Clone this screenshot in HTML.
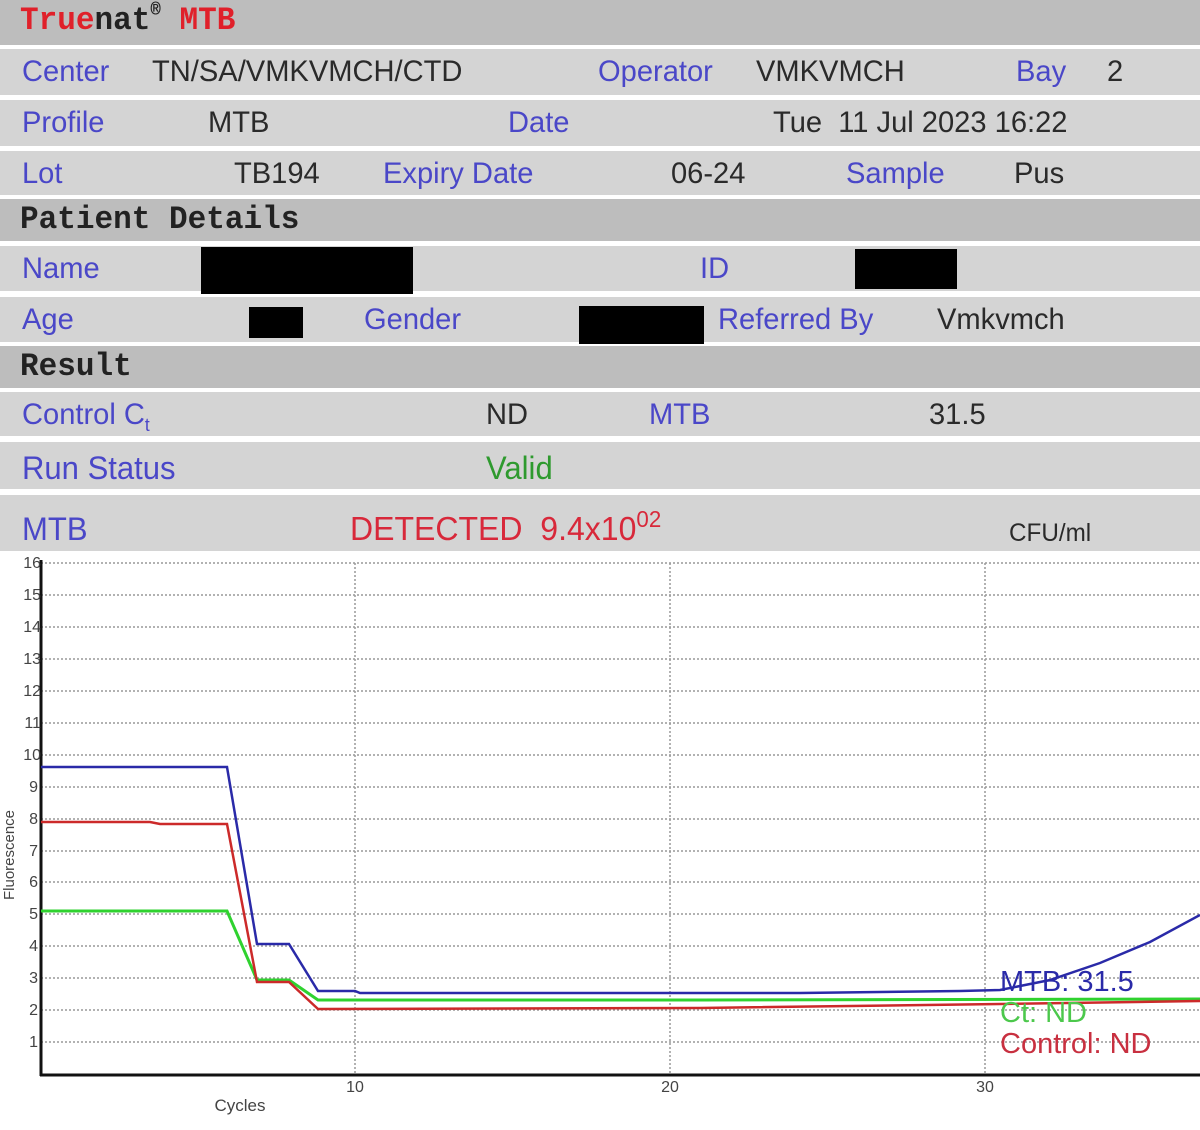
<!DOCTYPE html>
<html><head><meta charset="utf-8"><style>
html,body{margin:0;padding:0;background:#fff;width:1200px;height:1130px;overflow:hidden;position:relative;font-family:"Liberation Sans",sans-serif}
.r{position:absolute;left:0;width:1200px}
.l{background:#d4d4d4}.d{background:#bdbdbd}
.t{position:absolute;font-size:30px;line-height:34px;white-space:nowrap;color:#2a2a2a;transform:scaleX(0.97);transform-origin:left center}
.b{color:#4a47c8}
.k{position:absolute;background:#000}
.m{font-family:"Liberation Mono",monospace;font-size:32px}
sup{line-height:0;position:relative;vertical-align:baseline}
</style></head><body>
<div class="r d" style="top:0;height:45px"></div>
<div class="r l" style="top:49px;height:46px"></div>
<div class="r l" style="top:100px;height:46px"></div>
<div class="r l" style="top:151px;height:44px"></div>
<div class="r d" style="top:199px;height:42px"></div>
<div class="r l" style="top:246px;height:45px"></div>
<div class="r l" style="top:297px;height:45px"></div>
<div class="r d" style="top:346px;height:42px"></div>
<div class="r l" style="top:392px;height:44px"></div>
<div class="r l" style="top:442px;height:47px"></div>
<div class="r l" style="top:495px;height:56px"></div>

<div class="t m" style="left:20px;top:4px;color:#222;font-weight:bold"><span style="color:#e0202a">True</span>nat<sup style="font-size:18px;top:-14px">®</sup> <span style="color:#e0202a">MTB</span></div>

<div class="t b" style="left:22px;top:55px">Center</div>
<div class="t" style="left:152px;top:55px">TN/SA/VMKVMCH/CTD</div>
<div class="t b" style="left:598px;top:55px">Operator</div>
<div class="t" style="left:756px;top:55px">VMKVMCH</div>
<div class="t b" style="left:1016px;top:55px">Bay</div>
<div class="t" style="left:1107px;top:55px">2</div>

<div class="t b" style="left:22px;top:106px">Profile</div>
<div class="t" style="left:208px;top:106px">MTB</div>
<div class="t b" style="left:508px;top:106px">Date</div>
<div class="t" style="left:773px;top:106px">Tue &nbsp;11 Jul 2023 16:22</div>

<div class="t b" style="left:22px;top:157px">Lot</div>
<div class="t" style="left:234px;top:157px">TB194</div>
<div class="t b" style="left:383px;top:157px">Expiry Date</div>
<div class="t" style="left:671px;top:157px">06-24</div>
<div class="t b" style="left:846px;top:157px">Sample</div>
<div class="t" style="left:1014px;top:157px">Pus</div>

<div class="t m" style="left:20px;top:203px;color:#222;font-weight:bold">Patient Details</div>

<div class="t b" style="left:22px;top:252px">Name</div>
<div class="k" style="left:201px;top:247px;width:212px;height:47px"></div>
<div class="t b" style="left:700px;top:252px">ID</div>
<div class="k" style="left:855px;top:249px;width:102px;height:40px"></div>

<div class="t b" style="left:22px;top:303px">Age</div>
<div class="k" style="left:249px;top:307px;width:54px;height:31px"></div>
<div class="t b" style="left:364px;top:303px">Gender</div>
<div class="k" style="left:579px;top:306px;width:125px;height:38px"></div>
<div class="t b" style="left:718px;top:303px">Referred By</div>
<div class="t" style="left:937px;top:303px">Vmkvmch</div>

<div class="t m" style="left:20px;top:350px;color:#222;font-weight:bold">Result</div>

<div class="t b" style="left:22px;top:398px">Control C<sub style="font-size:18px;line-height:0">t</sub></div>
<div class="t" style="left:486px;top:398px">ND</div>
<div class="t b" style="left:649px;top:398px">MTB</div>
<div class="t" style="left:929px;top:398px">31.5</div>

<div class="t b" style="left:22px;top:451px;font-size:32px">Run Status</div>
<div class="t" style="left:486px;top:451px;color:#2e9a2e;font-size:32px">Valid</div>

<div class="t b" style="left:22px;top:512px;font-size:32px">MTB</div>
<div class="t" style="left:350px;top:512px;color:#d8283a;font-size:33px">DETECTED &nbsp;9.4x10<sup style="font-size:23px;top:-13px">02</sup></div>
<div class="t" style="left:1009px;top:516px;font-size:25px">CFU/ml</div>

<svg style="position:absolute;left:0;top:0" width="1200" height="1130">
<g stroke="#999" stroke-width="1.5" stroke-dasharray="2,2" fill="none">
<line x1="41" x2="1200" y1="1042" y2="1042"/><line x1="41" x2="1200" y1="1010" y2="1010"/>
<line x1="41" x2="1200" y1="978" y2="978"/><line x1="41" x2="1200" y1="946" y2="946"/>
<line x1="41" x2="1200" y1="914" y2="914"/><line x1="41" x2="1200" y1="882" y2="882"/>
<line x1="41" x2="1200" y1="851" y2="851"/><line x1="41" x2="1200" y1="819" y2="819"/>
<line x1="41" x2="1200" y1="787" y2="787"/><line x1="41" x2="1200" y1="755" y2="755"/>
<line x1="41" x2="1200" y1="723" y2="723"/><line x1="41" x2="1200" y1="691" y2="691"/>
<line x1="41" x2="1200" y1="659" y2="659"/><line x1="41" x2="1200" y1="627" y2="627"/>
<line x1="41" x2="1200" y1="595" y2="595"/><line x1="41" x2="1200" y1="563" y2="563"/>
<line x1="355" x2="355" y1="563" y2="1074"/><line x1="670" x2="670" y1="563" y2="1074"/><line x1="985" x2="985" y1="563" y2="1074"/>
</g>
<line x1="41" y1="560" x2="41" y2="1076" stroke="#111" stroke-width="3"/>
<line x1="40" y1="1075" x2="1200" y2="1075" stroke="#111" stroke-width="3"/>
<g font-family="Liberation Sans,sans-serif" font-size="16" fill="#444" text-anchor="end">
<text x="38" y="1047">1</text><text x="38" y="1015">2</text><text x="38" y="983">3</text><text x="38" y="951">4</text>
<text x="38" y="919">5</text><text x="38" y="887">6</text><text x="38" y="856">7</text><text x="38" y="824">8</text>
<text x="38" y="792">9</text><text x="41" y="760">10</text><text x="41" y="728">11</text><text x="41" y="696">12</text>
<text x="41" y="664">13</text><text x="41" y="632">14</text><text x="41" y="600">15</text><text x="41" y="568">16</text>
</g>
<g font-family="Liberation Sans,sans-serif" font-size="16" fill="#444" text-anchor="middle">
<text x="355" y="1092">10</text><text x="670" y="1092">20</text><text x="985" y="1092">30</text>
<text x="240" y="1111" font-size="17">Cycles</text>
<text transform="translate(14,855) rotate(-90)" font-size="15">Fluorescence</text>
</g>
<polyline fill="none" stroke="#2fd22f" stroke-width="3" points="41,911 227,911 257,980 289,980 318,1000 700,1000 1200,999"/>
<polyline fill="none" stroke="#cc2a2a" stroke-width="2.5" points="41,822 150,822 160,824 227,824 257,982 289,982 318,1009 700,1008 1000,1004 1200,1001"/>
<polyline fill="none" stroke="#2a2aa8" stroke-width="2.5" points="41,767 227,767 257,944 289,944 318,991 355,991 360,993 800,993 960,991 1000,990 1050,980 1100,963 1150,942 1200,915"/>
<g font-family="Liberation Sans,sans-serif" font-size="29">
<text x="1000" y="991" fill="#2a2aa8">MTB: 31.5</text>
<text x="1000" y="1022" fill="#4cc84c">Ct: ND</text>
<text x="1000" y="1053" fill="#c83040">Control: ND</text>
</g>
</svg>
</body></html>
